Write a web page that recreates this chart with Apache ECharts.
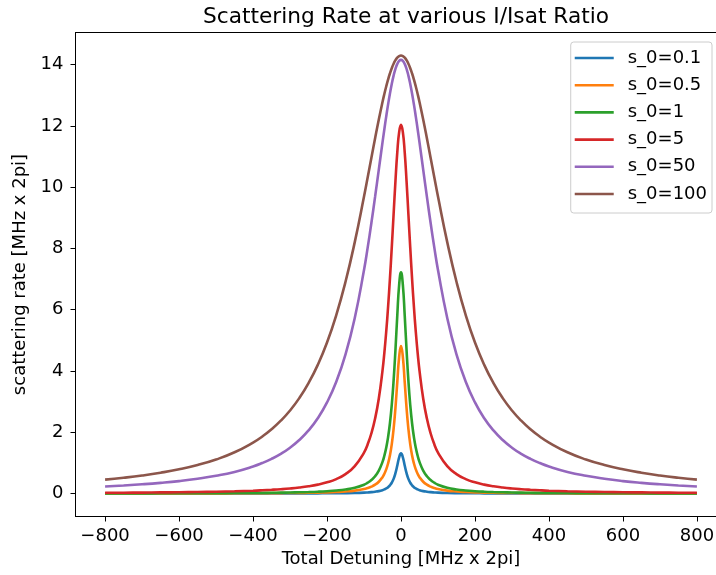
<!DOCTYPE html>
<html>
<head>
<meta charset="utf-8">
<script src="https://cdn.jsdelivr.net/npm/echarts@6/dist/echarts.min.js"></script>
<style>
html,body{margin:0;padding:0;background:#fff;}
#chart{width:716px;height:575px;}
</style>
</head>
<body>
<div id="chart"></div>
<script>
const detuning = [-800,-750,-700,-650,-600,-550,-500,-450,-400,-375,-350,-325,-300,-275,-250,-225,-200,-175,-150,-125,-100,-90,-80,-70,-60,-50,-45,-40,-35,-30,-25,-20,-15,-10,-5,0,5,10,15,20,25,30,35,40,45,50,60,70,80,90,100,125,150,175,200,225,250,275,300,325,350,375,400,450,500,550,600,650,700,750,800];
const seriesNames = ['s_0=0.1','s_0=0.5','s_0=1','s_0=5','s_0=50','s_0=100'];
const s01 = [0.0005,0.0005,0.0006,0.0007,0.0008,0.001,0.0012,0.0015,0.0019,0.0021,0.0025,0.0028,0.0033,0.004,0.0048,0.0059,0.0075,0.010,0.013,0.019,0.029,0.036,0.045,0.059,0.079,0.110,0.134,0.165,0.207,0.267,0.352,0.478,0.663,0.914,1.184,
  1.313,
  1.184,0.914,0.663,0.478,0.352,0.267,0.207,0.165,0.134,0.110,0.079,0.059,0.045,0.036,0.029,0.019,0.013,0.010,0.0075,0.0059,0.0048,0.004,0.0033,0.0028,0.0025,0.0021,0.0019,0.0015,0.0012,0.001,0.0008,0.0007,0.0006,0.0005,0.0005];
const s05 = [0.002,0.003,0.003,0.004,0.004,0.005,0.006,0.007,0.009,0.011,0.012,0.014,0.017,0.020,0.024,0.030,0.037,0.049,0.066,0.095,0.146,0.179,0.224,0.289,0.385,0.535,0.644,0.787,0.979,1.241,1.605,2.112,2.799,3.647,4.457,
  4.813,
  4.457,3.647,2.799,2.112,1.605,1.241,0.979,0.787,0.644,0.535,0.385,0.289,0.224,0.179,0.146,0.095,0.066,0.049,0.037,0.030,0.024,0.020,0.017,0.014,0.012,0.011,0.009,0.007,0.006,0.005,0.004,0.004,0.003,0.003,0.002];
const s1 = [0.005,0.005,0.006,0.007,0.008,0.010,0.012,0.015,0.019,0.021,0.024,0.028,0.033,0.040,0.048,0.059,0.075,0.097,0.131,0.188,0.289,0.354,0.442,0.566,0.750,1.032,1.233,1.493,1.834,2.286,2.890,3.685,4.690,5.824,6.812,
  7.220,
  6.812,5.824,4.690,3.685,2.890,2.286,1.834,1.493,1.233,1.032,0.750,0.566,0.442,0.354,0.289,0.188,0.131,0.097,0.075,0.059,0.048,0.040,0.033,0.028,0.024,0.021,0.019,0.015,0.012,0.010,0.008,0.007,0.006,0.005,0.005];
const s5 = [0.023,0.027,0.031,0.036,0.042,0.050,0.060,0.074,0.093,0.106,0.122,0.141,0.165,0.196,0.236,0.290,0.365,0.472,0.634,0.892,1.338,1.610,1.968,2.447,3.103,4.013,4.595,5.280,6.080,6.999,8.025,9.118,10.199,11.143,11.798,
  12.033,
  11.798,11.143,10.199,9.118,8.025,6.999,6.080,5.280,4.595,4.013,3.103,2.447,1.968,1.610,1.338,0.892,0.634,0.472,0.365,0.290,0.236,0.196,0.165,0.141,0.122,0.106,0.093,0.074,0.060,0.050,0.042,0.036,0.031,0.027,0.023];
const s50 = [0.231,0.263,0.301,0.348,0.406,0.481,0.578,0.706,0.882,0.995,1.131,1.295,1.496,1.745,2.059,2.458,2.973,3.649,4.543,5.733,7.296,8.036,8.838,9.691,10.576,11.462,11.892,12.305,12.695,13.052,13.371,13.644,13.864,14.025,14.124,
  14.157,
  14.124,14.025,13.864,13.644,13.371,13.052,12.695,12.305,11.892,11.462,10.576,9.691,8.838,8.036,7.296,5.733,4.543,3.649,2.973,2.458,2.059,1.745,1.496,1.295,1.131,0.995,0.882,0.706,0.578,0.481,0.406,0.348,0.301,0.263,0.231];
const s100 = [0.455,0.516,0.589,0.679,0.790,0.931,1.111,1.347,1.663,1.862,2.097,2.377,2.711,3.114,3.603,4.200,4.931,5.826,6.912,8.207,9.694,10.325,10.965,11.598,12.210,12.780,13.043,13.288,13.511,13.711,13.885,14.031,14.146,14.230,14.280,
  14.297,
  14.280,14.230,14.146,14.031,13.885,13.711,13.511,13.288,13.043,12.780,12.210,11.598,10.965,10.325,9.694,8.207,6.912,5.826,4.931,4.200,3.603,3.114,2.711,2.377,2.097,1.862,1.663,1.347,1.111,0.931,0.790,0.679,0.589,0.516,0.455];
const xTicks = [-800,-600,-400,-200,0,200,400,600,800];
const yTicks = [0,2,4,6,8,10,12,14];
const colors = ['#1f77b4','#ff7f0e','#2ca02c','#d62728','#9467bd','#8c564b'];

const allValues = [s01, s05, s1, s5, s50, s100];
const FONT = 'DejaVu Sans';
const fmt = v => String(v).replace('-', '\u2212');

const chart = echarts.init(document.getElementById('chart'), null, {renderer: 'canvas'});
chart.setOption({
  animation: false,
  backgroundColor: '#fff',
  color: colors,
  title: {
    text: 'Scattering Rate at various I/Isat Ratio',
    left: 401, top: 1, textAlign: 'center',
    textStyle: {fontFamily: FONT, fontSize: 21.7, fontWeight: 'normal', color: '#000'}
  },
  legend: {
    orient: 'vertical',
    right: 4, top: 42,
    data: seriesNames.map(n => ({name: n, icon: 'rect'})),
    itemWidth: 39, itemHeight: 2.6, itemGap: 9.2,
    padding: [7, 5, 10, 4],
    backgroundColor: '#fff',
    borderColor: '#cccccc', borderWidth: 1, borderRadius: 3,
    textStyle: {fontFamily: FONT, fontSize: 18, lineHeight: 18, color: '#000', padding: [0, 0, 0, 9]}
  },
  grid: {
    show: false,
    left: 75.5, top: 32.5, width: 651, height: 484,
    containLabel: false, outerBoundsMode: 'none'
  },
  xAxis: [{
    type: 'value', min: -880, max: 880, position: 'bottom',
    axisLine: {show: true, onZero: false, lineStyle: {color: '#000', width: 1}},
    axisTick: {show: true, length: 5, lineStyle: {color: '#000'}, customValues: xTicks},
    axisLabel: {customValues: xTicks, formatter: fmt, fontFamily: FONT, fontSize: 18, color: '#000', margin: 11},
    splitLine: {show: false},
    name: 'Total Detuning [MHz x 2pi]', nameLocation: 'middle', nameGap: 34,
    nameTextStyle: {fontFamily: FONT, fontSize: 18, color: '#000'}
  }, {
    type: 'value', min: -880, max: 880, position: 'top',
    axisLine: {show: true, onZero: false, lineStyle: {color: '#000', width: 1}},
    axisTick: {show: false}, axisLabel: {show: false}, splitLine: {show: false}
  }],
  yAxis: {
    type: 'value', min: -0.75, max: 15.05,
    axisLine: {show: true, onZero: false, lineStyle: {color: '#000', width: 1}},
    axisTick: {show: true, length: 5, lineStyle: {color: '#000'}, customValues: yTicks},
    axisLabel: {customValues: yTicks, formatter: fmt, fontFamily: FONT, fontSize: 18, color: '#000', margin: 12},
    splitLine: {show: false},
    name: 'scattering rate [MHz x 2pi]', nameLocation: 'middle', nameGap: 42,
    nameTextStyle: {fontFamily: FONT, fontSize: 18, color: '#000'}
  },
  series: seriesNames.map((name, k) => ({
    name: name,
    type: 'line',
    xAxisIndex: 0,
    symbol: 'none',
    smooth: 0.5,
    lineStyle: {width: 2.6, color: colors[k]},
    itemStyle: {color: colors[k]},
    data: detuning.map((x, i) => [x, allValues[k][i]])
  }))
});
</script>
</body>
</html>
